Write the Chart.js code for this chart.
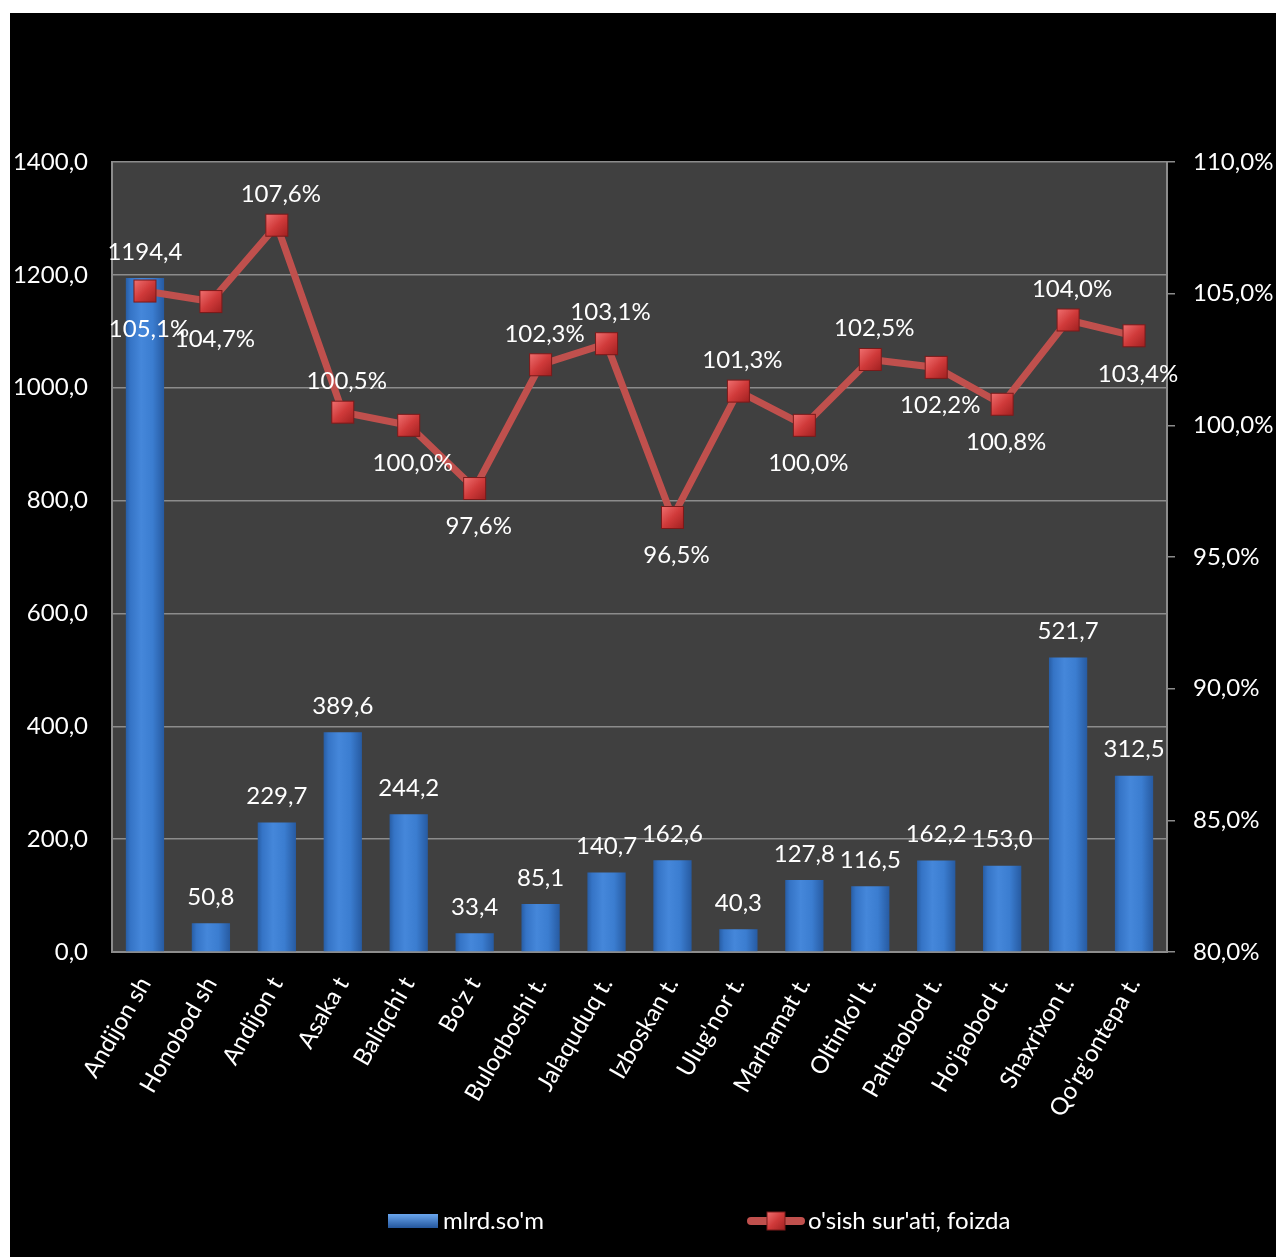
<!DOCTYPE html>
<html>
<head>
<meta charset="utf-8">
<script src="https://cdn.jsdelivr.net/npm/chart.js@4/dist/chart.umd.min.js"></script>
<style>
  html, body { margin: 0; padding: 0; background: #fff; }
  #wrap { position: absolute; left: 10px; top: 13px; width: 1266px; height: 1244px; background: #000; }
</style>
</head>
<body>
<div id="wrap"><canvas id="chart" width="1266" height="1244"></canvas></div>
<script>
// hududlar
const hududlar = ['Andijon sh', 'Honobod sh', 'Andijon t', 'Asaka t', 'Baliqchi t', "Bo'z t", 'Buloqboshi t.', 'Jalaquduq t.',
    'Izboskan t.', "Ulug'nor t.", 'Marhamat t.', "Oltinko'l t.", 'Pahtaobod t.', "Ho'jaobod t.", 'Shaxrixon t.', "Qo'rg'ontepa t."];
const mlrdSom = [1194.4, 50.8, 229.7, 389.6, 244.2, 33.4, 85.1, 140.7, 162.6, 40.3, 127.8, 116.5, 162.2, 153.0, 521.7, 312.5];
const osishSurati = [105.1, 104.7, 107.6, 100.5, 100.0, 97.6, 102.3, 103.1, 96.5, 101.3, 100.0, 102.5, 102.2, 100.8, 104.0, 103.4];
// yorliq joyi: 'a' - ustida, 'b' - ostida
const yorliqJoyi = ['b', 'b', 'a', 'a', 'b', 'b', 'a', 'a', 'b', 'a', 'b', 'a', 'b', 'b', 'a', 'b'];
const chapTicklar = [0, 200, 400, 600, 800, 1000, 1200, 1400];
const ongTicklar = [80, 85, 90, 95, 100, 105, 110];

const FONT = 'Lato, "Open Sans", sans-serif';
const fmt = v => v.toFixed(1).replace('.', ',');

function barGradient(ctx) {
    const chart = ctx.chart;
    if (!chart.chartArea || ctx.dataIndex === undefined) return '#3b7dd0';
    const x = chart.scales.x.getPixelForValue(ctx.dataIndex);
    const w = 19;
    const g = chart.ctx.createLinearGradient(x - w, 0, x + w, 0);
    g.addColorStop(0, '#285ea6');
    g.addColorStop(0.12, '#3574c6');
    g.addColorStop(0.4, '#4587da');
    g.addColorStop(0.7, '#3b7dd0');
    g.addColorStop(1, '#275ba2');
    return g;
}

const plotFon = {
    id: 'plotFon',
    beforeDraw(chart) {
        const a = chart.chartArea, c = chart.ctx;
        c.save();
        c.fillStyle = '#404040';
        c.fillRect(a.left, a.top, a.right - a.left, a.bottom - a.top);
        c.restore();
    }
};

const yorliqlar = {
    id: 'yorliqlar',
    afterDatasetsDraw(chart) {
        const c = chart.ctx;
        c.save();
        c.font = '24px ' + FONT;
        c.fillStyle = '#fff';
        c.textAlign = 'center';
        c.textBaseline = 'middle';
        // bar tepasi
        chart.getDatasetMeta(0).data.forEach((el, i) => {
            c.fillText(fmt(mlrdSom[i]), el.x, el.y - 26);
        });
        // chiziq
        chart.getDatasetMeta(1).data.forEach((el, i) => {
            const dy = yorliqJoyi[i] === 'a' ? -31 : 38;
            c.fillText(fmt(osishSurati[i]) + '%', el.x + 4, el.y + dy);
        });
        c.restore();
    }
};

function drawMarker(c, x, y, s) {
    const g = c.createLinearGradient(x - s, y - s, x + s, y + s);
    g.addColorStop(0, '#f07070');
    g.addColorStop(0.5, '#d03a3a');
    g.addColorStop(1, '#a02020');
    c.fillStyle = g;
    c.fillRect(x - s, y - s, 2 * s, 2 * s);
    c.strokeStyle = '#7a1a1a';
    c.lineWidth = 1;
    c.strokeRect(x - s, y - s, 2 * s, 2 * s);
}

const legenda = {
    id: 'legenda',
    afterDraw(chart) {
        const c = chart.ctx;
        const y = 1208;
        c.save();
        // bar
        const g = c.createLinearGradient(0, y - 7, 0, y + 7);
        g.addColorStop(0, '#6aa6ee');
        g.addColorStop(1, '#24569c');
        c.fillStyle = g;
        c.fillRect(378, y - 7, 50, 14);
        // chiziq
        c.strokeStyle = '#c0504d';
        c.lineWidth = 8;
        c.lineCap = 'round';
        c.beginPath();
        c.moveTo(741, y);
        c.lineTo(791, y);
        c.stroke();
        drawMarker(c, 766, y, 9);
        c.font = '24px ' + FONT;
        c.fillStyle = '#fff';
        c.textBaseline = 'middle';
        c.fillText("mlrd.so'm", 433, y);
        c.fillText("o'sish sur'ati, foizda", 798, y);
        c.restore();
    }
};

const markerPlugin = {
    id: 'markerPlugin',
    afterDatasetsDraw(chart) {
        const c = chart.ctx;
        c.save();
        chart.getDatasetMeta(1).data.forEach(el => drawMarker(c, el.x, el.y, 11));
        c.restore();
    }
};

new Chart(document.getElementById('chart'), {
    type: 'bar',
    data: {
        labels: hududlar,
        datasets: [
            {
                label: "mlrd.so'm",
                data: mlrdSom,
                yAxisID: 'y',
                backgroundColor: barGradient,
                borderWidth: 0,
                barPercentage: 0.58,
                categoryPercentage: 1,
                order: 2
            },
            {
                type: 'line',
                label: "o'sish sur'ati, foizda",
                data: osishSurati,
                yAxisID: 'y1',
                borderColor: '#c0504d',
                borderWidth: 7,
                pointRadius: 0,
                pointHoverRadius: 0,
                tension: 0,
                order: 1
            }
        ]
    },
    options: {
        responsive: false,
        animation: false,
        devicePixelRatio: 1,
        layout: { padding: { top: 149, bottom: 60, left: 0, right: 0 } },
        plugins: {
            legend: { display: false },
            tooltip: { enabled: false }
        },
        scales: {
            x: {
                grid: { display: false },
                border: { color: '#8c8c8c', width: 2 },
                ticks: {
                    color: '#fff',
                    font: { family: FONT, size: 24 },
                    minRotation: 60,
                    maxRotation: 60,
                    padding: 12,
                    autoSkip: false
                },
                afterFit(s) { s.height = 245; }
            },
            y: {
                position: 'left',
                min: 0,
                max: 1400,
                afterBuildTicks(s) { s.ticks = chapTicklar.map(v => ({ value: v })); },
                grid: { color: '#8c8c8c', lineWidth: 1.5, drawTicks: false },
                border: { color: '#8c8c8c', width: 2 },
                ticks: {
                    color: '#fff',
                    font: { family: FONT, size: 24 },
                    padding: 24,
                    callback: v => fmt(v)
                },
                afterFit(s) { s.width = 102; }
            },
            y1: {
                position: 'right',
                min: 80,
                max: 110,
                afterBuildTicks(s) { s.ticks = ongTicklar.map(v => ({ value: v })); },
                grid: { drawOnChartArea: false, color: '#8c8c8c', lineWidth: 1.5, tickLength: 8 },
                border: { color: '#8c8c8c', width: 2 },
                ticks: {
                    color: '#fff',
                    font: { family: FONT, size: 24 },
                    padding: 18,
                    align: 'center',
                    callback: v => fmt(v) + '%'
                },
                afterFit(s) { s.width = 109; }
            }
        }
    },
    plugins: [plotFon, markerPlugin, yorliqlar, legenda]
});
</script>
</body>
</html>
